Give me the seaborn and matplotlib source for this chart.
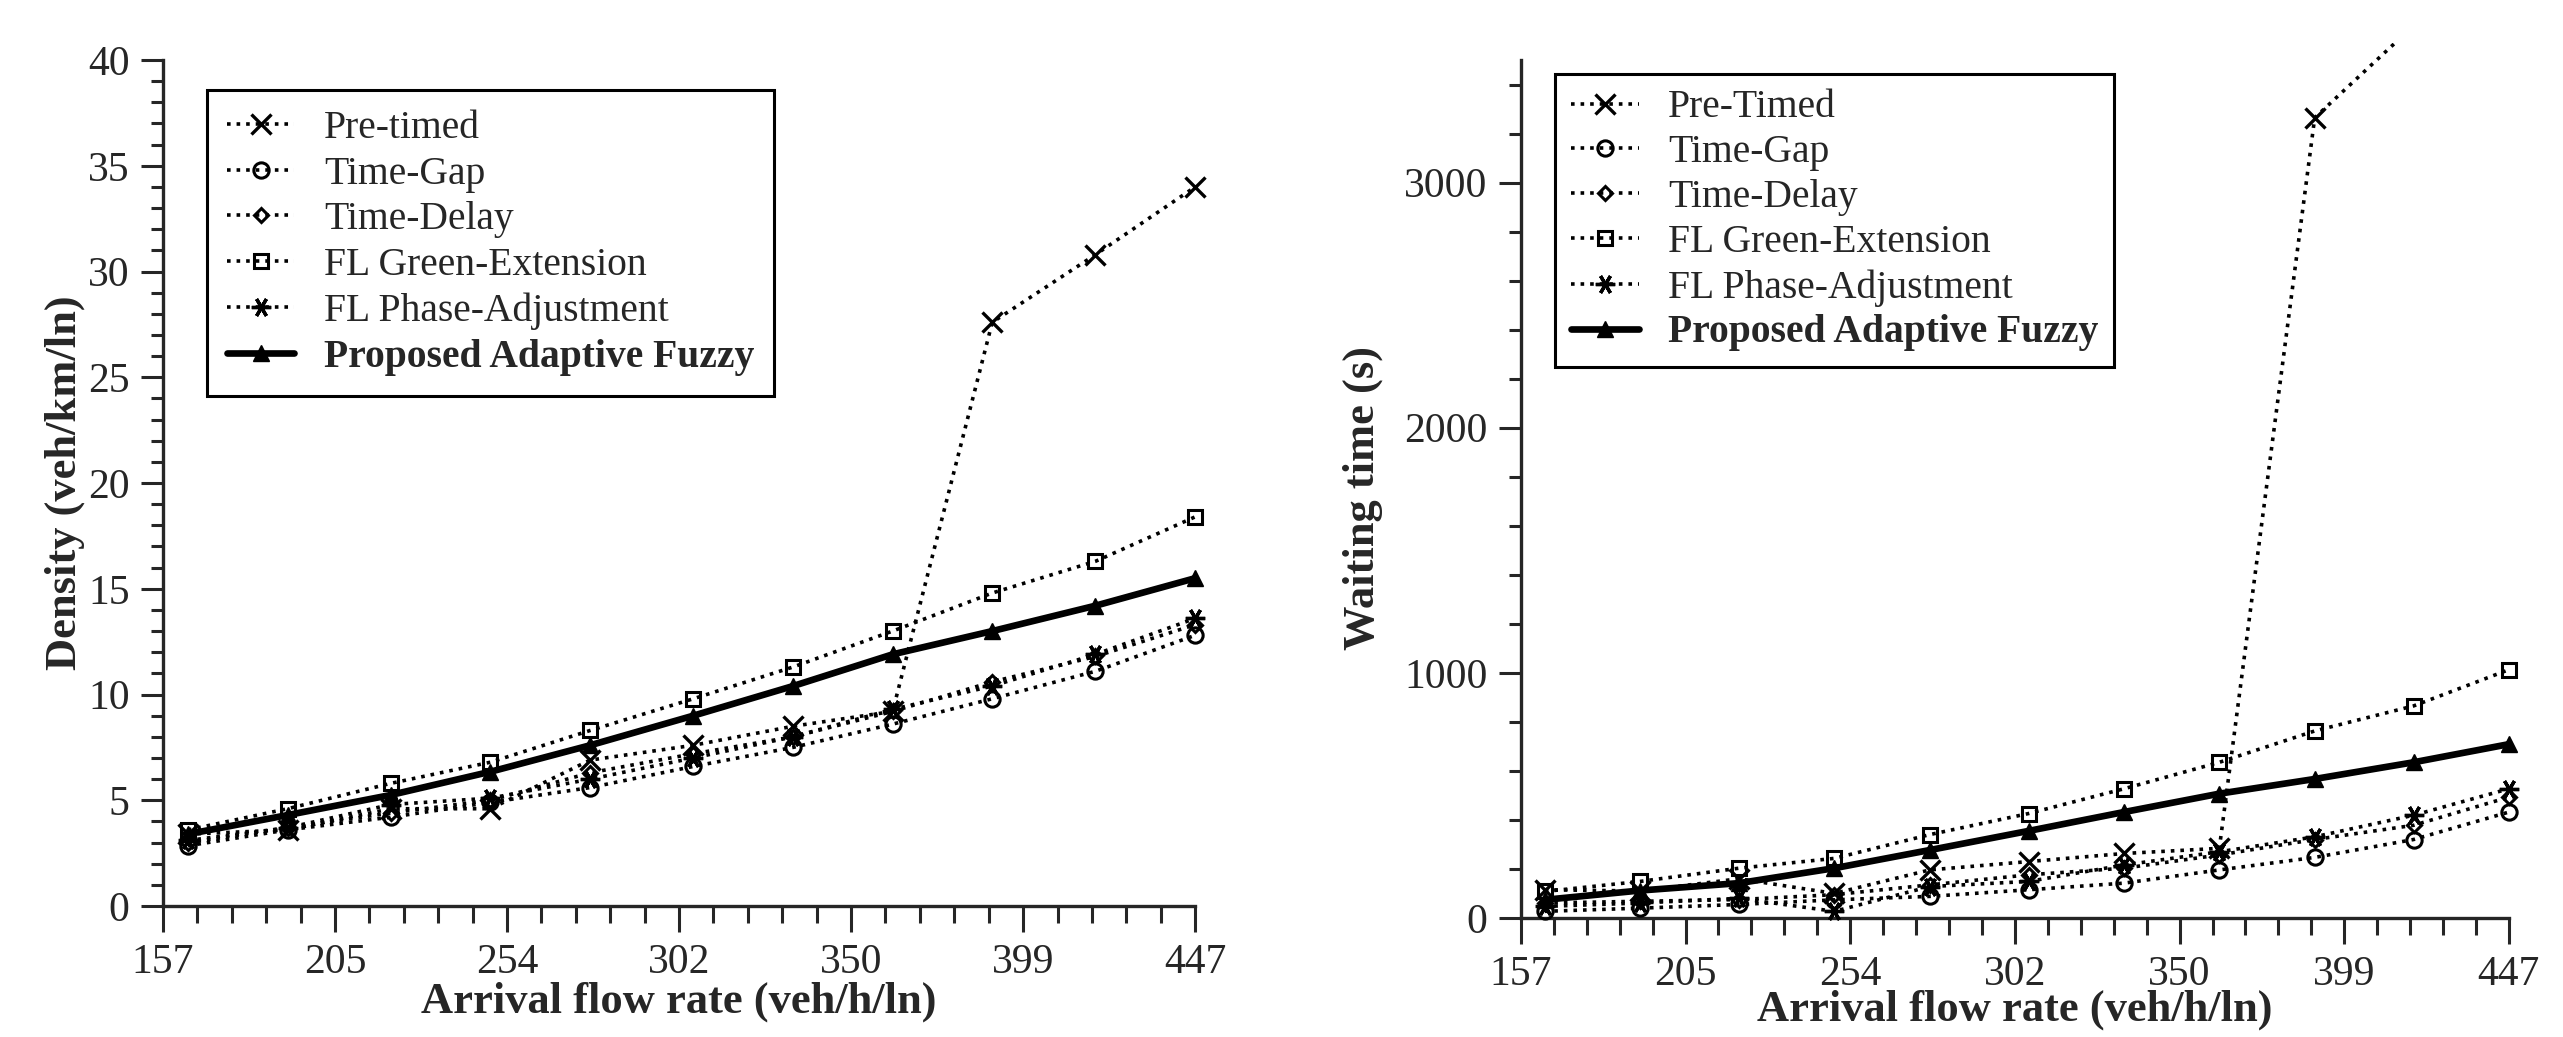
import numpy as np
import matplotlib
matplotlib.use("Agg")
import matplotlib.pyplot as plt
import seaborn as sns

sns.set_style("ticks")
plt.rcParams['font.family'] = ['Liberation Serif', 'DejaVu Serif']

# Taxa de chegada (veh/h/ln) e rótulos do eixo x
fluxo = [164, 192, 221, 249, 277, 306, 334, 362, 390, 419, 447]
rotulosX = ['157', '205', '254', '302', '350', '399', '447']

nomesDensidade = ['Pre-timed', 'Time-Gap', 'Time-Delay', 'FL Green-Extension',
                  'FL Phase-Adjustment', 'Proposed Adaptive Fuzzy']
nomesEspera = ['Pre-Timed', 'Time-Gap', 'Time-Delay', 'FL Green-Extension',
               'FL Phase-Adjustment', 'Proposed Adaptive Fuzzy']

# Densidade (veh/km/ln)
densPreTimed = [3.4, 3.6, 4.6, 4.6, 6.9, 7.6, 8.5, 9.2, 27.6, 30.8, 34.0]
densTimeGap = [2.85, 3.6, 4.2, 4.9, 5.6, 6.6, 7.5, 8.6, 9.8, 11.1, 12.8]
densTimeDelay = [3.0, 3.7, 4.4, 5.0, 6.3, 7.2, 8.0, 9.2, 10.6, 11.8, 13.3]
densGreenExt = [3.6, 4.6, 5.8, 6.8, 8.3, 9.8, 11.3, 13.0, 14.8, 16.3, 18.4]
densPhaseAdj = [3.1, 3.7, 4.8, 5.1, 6.0, 7.0, 8.0, 9.3, 10.4, 11.9, 13.6]
densFuzzy = [3.4, 4.3, 5.25, 6.35, 7.6, 9.0, 10.4, 11.9, 13.0, 14.2, 15.5]

# Tempo de espera (s)
esperaPreTimed = [115, 110, 160, 100, 196, 230, 263, 284, 3265, 3640, 3950]
esperaTimeGap = [27, 40, 55, 74, 88, 115, 142, 196, 247, 320, 432]
esperaTimeDelay = [61, 68, 75, 95, 135, 176, 203, 257, 320, 378, 493]
esperaGreenExt = [108, 149, 203, 243, 340, 426, 527, 635, 763, 865, 1013]
esperaPhaseAdj = [47, 61, 80, 27, 128, 149, 216, 270, 331, 419, 527]
esperaFuzzy = [74, 112, 142, 203, 277, 355, 432, 507, 567, 635, 709]

estilos = [
    dict(marker='x', markersize=14, markeredgewidth=2.4),
    dict(marker='o', markersize=11, markeredgewidth=2.2, markerfacecolor='none'),
    dict(marker='D', markersize=7.5, markeredgewidth=2.2, markerfacecolor='none'),
    dict(marker='s', markersize=10, markeredgewidth=2.2, markerfacecolor='none'),
    dict(marker=(6, 2, 90), markersize=14, markeredgewidth=2.4),
    dict(marker='^', markersize=12, markeredgewidth=1.0),
]


def desenharPainel(ax, series, nomes, yMax, spineTop, ylabel, clipPrimeira):
    for i, (nome, valores) in enumerate(zip(nomes, series)):
        est = dict(estilos[i])
        proposto = (i == len(series) - 1)
        sns.lineplot(x=fluxo, y=valores, ax=ax, label=nome, color='black',
                     markeredgecolor='black',
                     linestyle='-' if proposto else ':',
                     linewidth=4.8 if proposto else 2.6,
                     clip_on=(clipPrimeira and i == 0), zorder=3 + i, **est)

    ax.set_xlim(157, 447)
    ax.set_ylim(0, yMax)
    ax.spines['left'].set_bounds(0, spineTop)
    ax.spines['top'].set_visible(False)
    ax.spines['right'].set_visible(False)
    for s in ['left', 'bottom']:
        ax.spines[s].set_linewidth(2.4)

    ax.set_xticks(np.linspace(157, 447, 7))
    ax.set_xticklabels(rotulosX)
    ax.set_xticks(np.linspace(157, 447, 31), minor=True)
    ax.tick_params(axis='x', which='major', length=19, width=2.2, labelsize=30, pad=8)
    ax.tick_params(axis='x', which='minor', length=12, width=2.2)
    ax.tick_params(axis='y', which='major', length=16, width=2.2, labelsize=30, pad=8)
    ax.tick_params(axis='y', which='minor', length=9, width=2.2)

    ax.set_xlabel('Arrival flow rate (veh/h/ln)', fontsize=32, fontweight='bold')
    ax.set_ylabel(ylabel, fontsize=32, fontweight='bold')
    ax.xaxis.label.set_va('center')
    ax.yaxis.label.set_va('center')


def criarLegenda(ax, ancora, pad, espaco):
    leg = ax.legend(loc='upper left', bbox_to_anchor=ancora, borderaxespad=0,
                    fontsize=28.5, frameon=True, fancybox=False, shadow=False,
                    edgecolor='black', framealpha=1, handlelength=1.7,
                    handletextpad=0.75, labelspacing=espaco, borderpad=pad,
                    numpoints=1)
    leg.get_frame().set_linewidth(2.2)
    leg.get_texts()[-1].set_fontweight('bold')
    return leg


def main():
    fig = plt.figure(figsize=(25.63, 10.37), dpi=100)
    axDens = fig.add_axes([0.0636, 0.1263, 0.4027, 0.8158])
    axEsp = fig.add_axes([0.5934, 0.1148, 0.3855, 0.8438])

    seriesDens = [densPreTimed, densTimeGap, densTimeDelay, densGreenExt, densPhaseAdj, densFuzzy]
    desenharPainel(axDens, seriesDens, nomesDensidade, 40, 40, 'Density (veh/km/ln)', False)
    axDens.set_yticks(np.arange(0, 41, 5))
    axDens.set_yticks(np.arange(0, 41, 1), minor=True)
    axDens.xaxis.set_label_coords(0.5, -0.113)
    axDens.yaxis.set_label_coords(-0.095, 0.5)
    criarLegenda(axDens, (0.043, 0.9645), 0.5, 0.22)

    seriesEsp = [esperaPreTimed, esperaTimeGap, esperaTimeDelay, esperaGreenExt, esperaPhaseAdj, esperaFuzzy]
    desenharPainel(axEsp, seriesEsp, nomesEspera, 3570, 3500, 'Waiting time (s)', True)
    axEsp.set_yticks([0, 1000, 2000, 3000])
    axEsp.set_yticks(np.arange(0, 3501, 200), minor=True)
    axEsp.xaxis.set_label_coords(0.5, -0.105)
    axEsp.yaxis.set_label_coords(-0.16, 0.48)
    criarLegenda(axEsp, (0.035, 0.965), 0.4, 0.2)

    fig.savefig('out.png', dpi=100, facecolor='white')


if __name__ == "__main__":
    main()
